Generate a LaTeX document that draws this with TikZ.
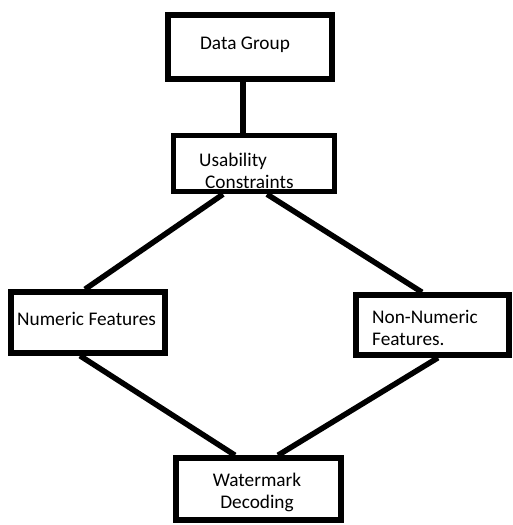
\documentclass[tikz,border=0pt]{standalone}
\usepackage{fontspec}
\setmainfont{Carlito}
\begin{document}
\begin{tikzpicture}[x=1pt,y=-1pt,
  box/.style={draw=black,line width=5.5pt,minimum width=#1,inner sep=0pt},
  lbl/.style={inner sep=0pt,font=\fontsize{19.3pt}{22pt}\selectfont,text=black},
  conn/.style={line width=5.5pt,black}]
\useasboundingbox (0,0) rectangle (512,525);
% boxes
\node[box=164pt,minimum height=64pt] (dg) at (250,47) {};
\node[box=161pt,minimum height=56pt] (uc) at (254,163.5) {};
\node[box=154pt,minimum height=61pt] (nf) at (88,322.5) {};
\node[box=153pt,minimum height=60pt] (nn) at (432.5,325) {};
\node[box=165pt,minimum height=62pt] (wm) at (258.5,489) {};
% labels
\node[lbl] (dgT) at (245,45) {Data Group};
\node[lbl,anchor=west,align=left] (ucT) at (199,171) {Usability\\\hspace*{6pt}Constraints};
\node[lbl,anchor=west] (nfT) at (17,319) {Numeric Features};
\node[lbl,anchor=west,align=left] (nnT) at (372,328) {Non-Numeric\\Features.};
\node[lbl,align=center] (wmT) at (257,492) {Watermark\\Decoding};
% connectors
\draw[conn] ([xshift=-7pt]dg.south) -- ([xshift=-11pt]uc.north);
\draw[conn] ([xshift=-31pt]uc.south) -- ([xshift=-3pt]nf.north);
\draw[conn] ([xshift=13pt]uc.south) -- ([xshift=-10.5pt]nn.north);
\draw[conn] ([xshift=-8pt]nf.south) -- ([xshift=-23.5pt]wm.north);
\draw[conn] ([xshift=5.5pt]nn.south) -- ([xshift=19.5pt]wm.north);
\end{tikzpicture}
\end{document}
